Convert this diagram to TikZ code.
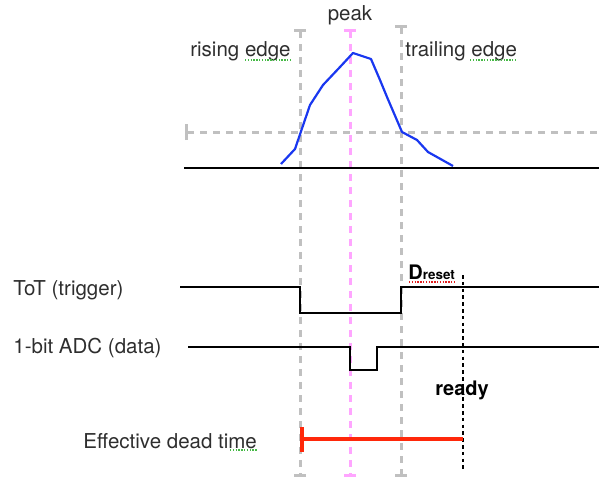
\documentclass[tikz,border=0pt]{standalone}
\usepackage{fontspec}
\setmainfont{TeX Gyre Heros}
\usetikzlibrary{arrows.meta}
\definecolor{guidegray}{RGB}{192,192,192}
\definecolor{peakpink}{RGB}{255,165,255}
\definecolor{pulseblue}{RGB}{25,55,240}
\definecolor{deadred}{RGB}{255,40,10}
\definecolor{spellgreen}{RGB}{70,185,70}
\definecolor{spellred}{RGB}{225,30,30}
\tikzset{
  guide/.style  = {line width=1.5pt, dash pattern=on 3.5pt off 3pt},
  signal/.style = {line width=1pt, black},
  lbl/.style    = {inner sep=0pt, text=black!82, font=\fontsize{10.25}{12}\selectfont},
  boldlbl/.style= {inner sep=0pt, text=black, font=\bfseries\fontsize{10}{12}\selectfont},
  spell/.style  = {line width=0.7pt, dash pattern=on 0.7pt off 0.7pt}
}

\begin{document}
\begin{tikzpicture}[x=0.5pt, y=-0.5pt]
  \useasboundingbox (0,0) rectangle (599,481);

  % vertical guides: rising edge, peak, trailing edge
  \foreach \name/\xx/\ytop/\col in {rise/300/29/guidegray, peak/350/29/peakpink, trail/401/25/guidegray}{
    \coordinate (\name top) at (\xx,\ytop);
    \coordinate (\name bot) at (\xx,477);
    \draw[guide, \col, {Bar[width=6pt]}-{Bar[width=6pt]}] (\name top) -- (\name bot);
  }

  % threshold and baseline
  \coordinate (thr a) at (185,132);
  \coordinate (thr b) at (599,132);
  \draw[guide, guidegray, {Bar[width=8pt]}-] (thr a) -- (thr b);
  \coordinate (base a) at (184,168);
  \coordinate (base b) at (599,168);
  \draw[signal] (base a) -- (base b);

  % the pulse
  \draw[pulseblue, line width=1.1pt, line join=round] plot coordinates {
    (281,164) (295,149) (310,105) (323,85) (340,67) (353,53) (371,59)
    (380,80) (387,97) (402,132) (417,140) (428,152) (453,166)};

  \node[lbl, anchor=base] (peak) at (350,21) {peak};
  \node[lbl, anchor=base east] (rising) at (291,57) {rising edge};
  \node[lbl, anchor=base west] (trailing) at (405,57) {trailing edge};

  % ToT trigger output
  \coordinate (tot a) at (180,287);
  \coordinate (tot b) at (599,287);
  \draw[signal] (tot a) -- (300,287) -- (300,313) -- (401,313) -- (401,287) -- (tot b);
  \node[lbl, anchor=base west] (tot) at (13,295) {ToT (trigger)};

  % 1-bit ADC output
  \coordinate (adc a) at (188,347);
  \coordinate (adc b) at (599,347);
  \draw[signal] (adc a) -- (350,347) -- (350,370) -- (377,370) -- (377,347) -- (adc b);
  \node[lbl, anchor=base west] (adc) at (13,353) {1-bit ADC (data)};

  % reset delay and ready marker
  \node[boldlbl, anchor=base west] (dreset) at (408,279)
    {D{\fontsize{6.7}{8}\selectfont reset}};
  \coordinate (ready top) at (463,275);
  \coordinate (ready bot) at (463,470);
  \draw[black, line width=1pt, dash pattern=on 1.8pt off 1.6pt] (ready top) -- (ready bot);
  \node[boldlbl, anchor=base] (ready) at (462,395) {ready};

  % effective dead time
  \coordinate (dead a) at (300,439);
  \coordinate (dead b) at (463,439);
  \draw[deadred, line width=2pt, {Bar[width=12.5pt]}-] (dead a) -- (dead b);
  \node[lbl, anchor=base west] (dead) at (83,448) {Effective dead time};

  % spell checker underlines
  \draw[spell, spellgreen] (245,60) -- (291,60);
  \draw[spell, spellgreen] (470,60) -- (515,60);
  \draw[spell, spellgreen] (230,450) -- (257,450);
  \draw[spell, spellred] (409,282) -- (455,282);
\end{tikzpicture}
\end{document}
